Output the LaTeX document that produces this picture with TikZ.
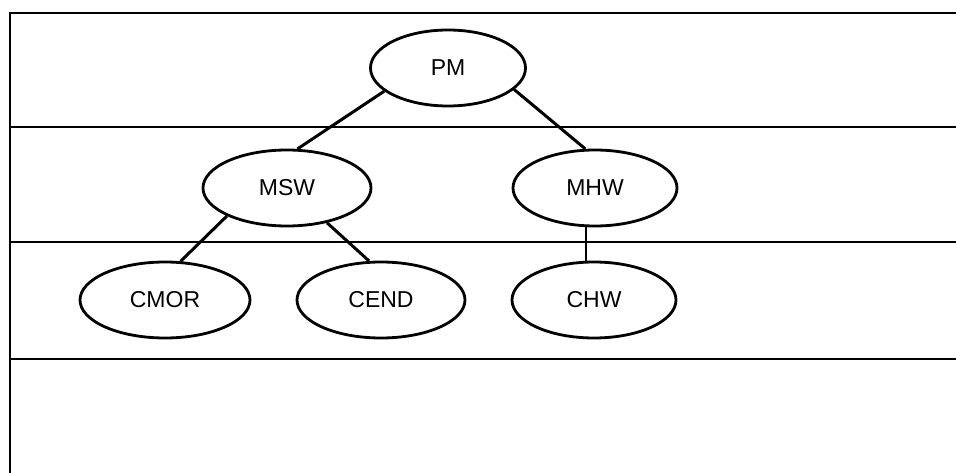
\documentclass[tikz,border=0pt]{standalone}
\usepackage{fontspec}
\setmainfont{Liberation Sans}
\usetikzlibrary{shapes.geometric}
\begin{document}
\begin{tikzpicture}[x=1pt,y=-1pt,
  unit/.style={ellipse,draw,line width=2.8pt,inner sep=0pt,
    minimum width=164pt,minimum height=76pt,font=\fontsize{23}{25}\selectfont},
  strong/.style={line width=3pt},
  weak/.style={line width=1.3pt},
  rule/.style={line width=2.4pt}]
  \useasboundingbox (0,0) rectangle (956,473);
  % level bands
  \draw[rule] (10,473) -- (10,13) -- (956,13);
  \draw[rule] (10,127) -- (956,127);
  \draw[rule] (10,242) -- (956,242);
  \draw[rule] (10,359) -- (956,359);
  % hierarchy
  \node[unit,minimum width=155pt] (pm)   at (448,68)  {PM};
  \node[unit,minimum width=168pt] (msw)  at (287,188) {MSW};
  \node[unit] (mhw)  at (595,188) {MHW};
  \node[unit,minimum width=170pt] (cmor) at (165,300) {CMOR};
  \node[unit,minimum width=168pt] (cend) at (381,300) {CEND};
  \node[unit] (chw)  at (594,300) {CHW};
  \draw[strong] (pm.200) -- (msw.75);
  \draw[strong] (pm.342) -- (mhw.104);
  \draw[strong] (msw.205) -- (cmor.68);
  \draw[strong] (msw.319) -- (cend.107);
  \draw[weak] ([xshift=-9pt]mhw.south) -- ([xshift=-8pt]chw.north);
\end{tikzpicture}
\end{document}
